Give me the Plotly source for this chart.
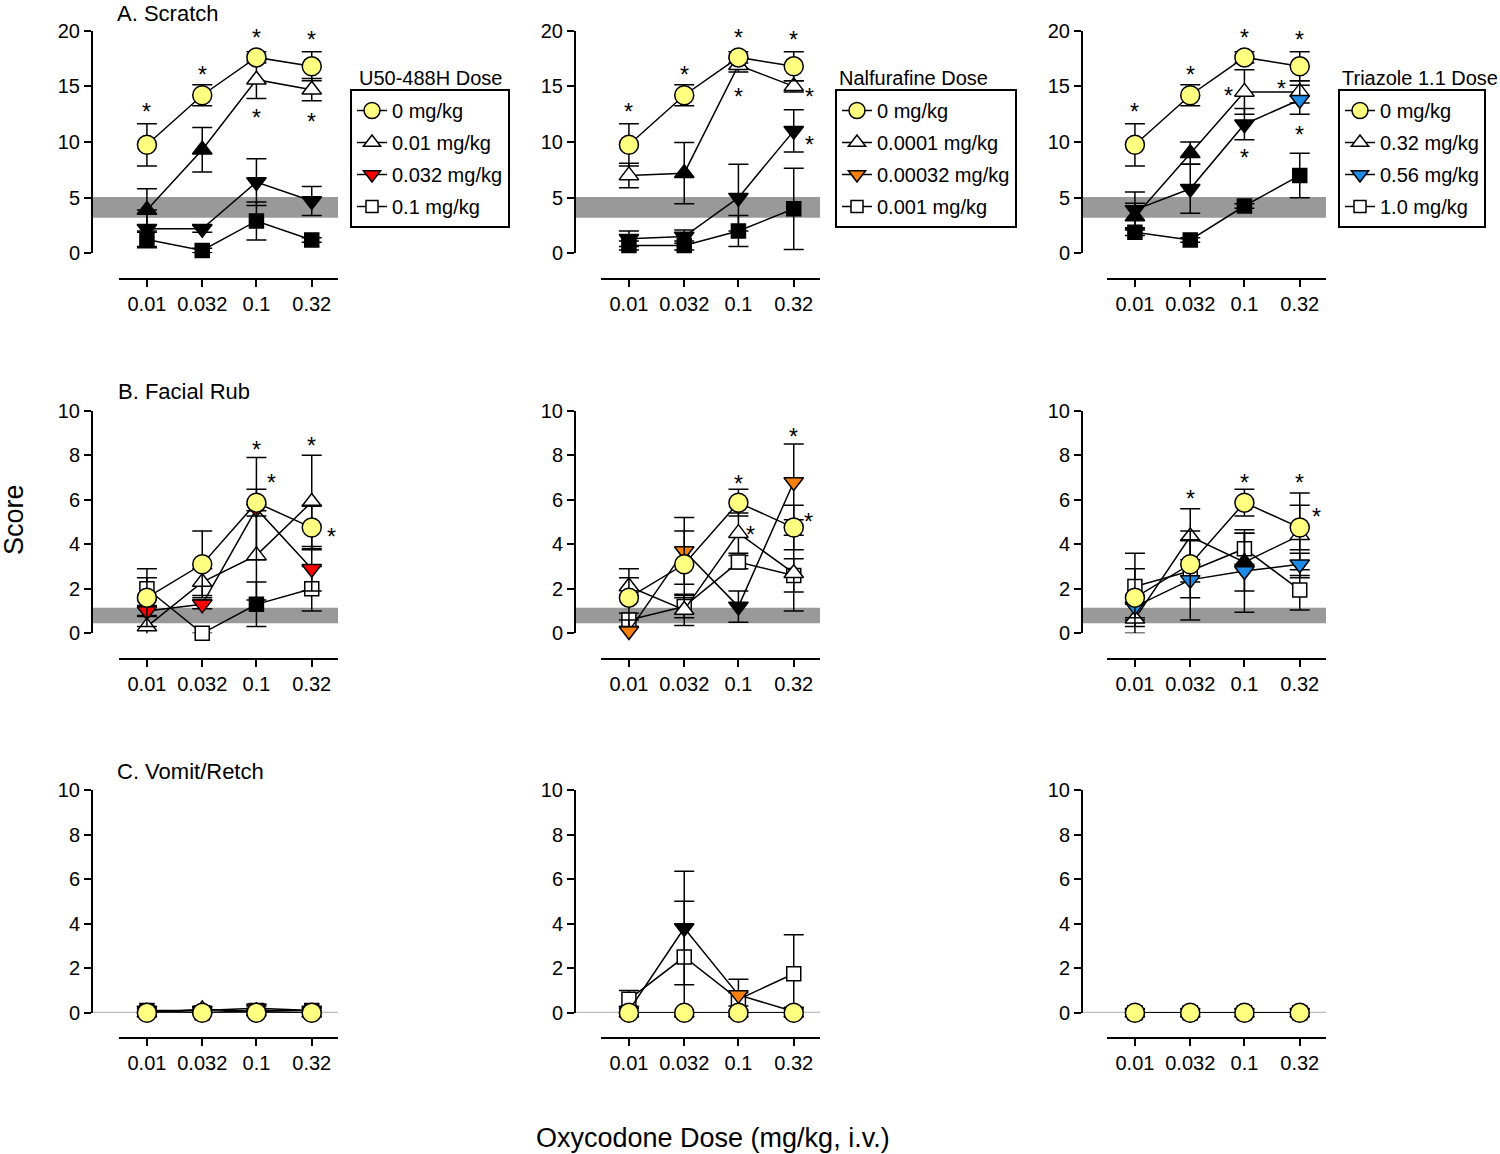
import math
import plotly.graph_objects as go

FONT = "Liberation Sans, Arial, sans-serif"
W, H = 1500, 1154
OFF = 0  # page body margin is removed by the post script

# ---------------- data ----------------
doses = [0.01, 0.032, 0.1, 0.32]
dose_labels = ["0.01", "0.032", "0.1", "0.32"]

row_titles = ["A. Scratch", "B. Facial Rub", "C. Vomit/Retch"]
drug_titles = ["U50-488H Dose", "Nalfurafine Dose", "Triazole 1.1 Dose"]
u50_labels = ["0 mg/kg", "0.01 mg/kg", "0.032 mg/kg", "0.1 mg/kg"]
nalf_labels = ["0 mg/kg", "0.0001 mg/kg", "0.00032 mg/kg", "0.001 mg/kg"]
triaz_labels = ["0 mg/kg", "0.32 mg/kg", "0.56 mg/kg", "1.0 mg/kg"]

# baseline (no-drug) range bands
scratch_band = [3.2, 5.05]
rub_band = [0.45, 1.15]

# series order: 0 mg/kg, low, middle, high dose
# flags: 1 = coloured/open symbol, 0 = filled black symbol
scratch_u50_mean = [[9.75, 14.2, 17.6, 16.8], [3.9, 9.3, 15.6, 14.7], [2.2, 2.2, 6.4, 4.7], [1.25, 0.25, 2.9, 1.2]]
scratch_u50_sem = [[1.9, 0.95, 0.5, 1.3], [1.9, 2.0, 1.7, 1.0], [1.7, 0.3, 2.1, 1.3], [0.65, 0.2, 1.7, 0.2]]
scratch_u50_flag = [[1, 1, 1, 1], [0, 0, 1, 1], [0, 0, 0, 0], [0, 0, 0, 0]]

scratch_nalf_mean = [[9.75, 14.2, 17.6, 16.8], [7.0, 7.2, 16.9, 15.0], [1.3, 1.5, 5.0, 11.0], [0.7, 0.7, 2.0, 4.0]]
scratch_nalf_sem = [[1.9, 0.95, 0.5, 1.3], [1.1, 2.75, 0.6, 0.5], [0.7, 0.6, 3.0, 1.9], [0.4, 0.4, 1.4, 3.65]]
scratch_nalf_flag = [[1, 1, 1, 1], [1, 0, 1, 1], [0, 0, 0, 0], [0, 0, 0, 0]]

scratch_triaz_mean = [[9.75, 14.2, 17.6, 16.8], [3.3, 9.0, 14.5, 14.5], [3.9, 5.8, 11.6, 13.8], [1.9, 1.2, 4.25, 7.0]]
scratch_triaz_sem = [[1.9, 0.95, 0.5, 1.3], [1.2, 1.0, 2.0, 1.0], [1.6, 2.2, 1.4, 1.3], [0.3, 0.2, 0.2, 2.0]]
scratch_triaz_flag = [[1, 1, 1, 1], [0, 0, 1, 1], [0, 0, 0, 1], [0, 0, 0, 0]]

rub_u50_mean = [[1.6, 3.1, 5.87, 4.75], [0.3, 2.3, 3.5, 5.9], [1.0, 1.3, 5.6, 2.9], [2.0, 0.0, 1.3, 2.0]]
rub_u50_sem = [[1.3, 1.5, 0.6, 1.0], [0.5, 0.6, 2.0, 2.1], [0.25, 0.2, 2.3, 1.0], [0.5, 0.0, 1.0, 1.0]]
rub_u50_flag = [[1, 1, 1, 1], [1, 1, 1, 1], [1, 1, 1, 1], [1, 1, 0, 1]]

rub_nalf_mean = [[1.6, 3.1, 5.87, 4.75], [2.1, 1.05, 4.5, 2.7], [0.1, 3.7, 1.2, 6.8], [0.6, 1.2, 3.2, 2.6]]
rub_nalf_sem = [[1.3, 1.5, 0.6, 1.0], [0.4, 0.7, 0.9, 1.7], [0.5, 1.5, 0.7, 1.7], [0.3, 0.5, 0.3, 0.75]]
rub_nalf_flag = [[1, 1, 1, 1], [1, 1, 1, 1], [1, 1, 0, 1], [1, 1, 1, 1]]

rub_triaz_mean = [[1.6, 3.1, 5.87, 4.75], [0.65, 4.35, 3.2, 4.4], [1.2, 2.4, 2.8, 3.1], [2.1, 2.8, 3.8, 1.95]]
rub_triaz_sem = [[1.3, 1.5, 0.6, 1.0], [0.65, 1.25, 1.3, 1.9], [0.5, 1.8, 1.85, 0.5], [1.5, 0.5, 0.7, 0.9]]
rub_triaz_flag = [[1, 1, 1, 1], [1, 1, 0, 1], [1, 1, 1, 1], [1, 1, 1, 1]]

vomit_u50_mean = [[0, 0, 0, 0], [0.0, 0.15, 0.05, 0.0], [0.1, 0.1, 0.2, 0.1], [0.1, 0.0, 0.1, 0.1]]
vomit_u50_sem = [[0, 0, 0, 0], [0.1, 0.1, 0.1, 0.1], [0.1, 0.1, 0.1, 0.1], [0.1, 0.0, 0.1, 0.1]]
vomit_u50_flag = [[1, 1, 1, 1], [1, 1, 1, 1], [1, 1, 1, 1], [0, 0, 0, 0]]

vomit_nalf_mean = [[0, 0, 0, 0], [0, 0, 0, 0], [0.1, 3.8, 0.8, 0.05], [0.6, 2.5, 0.6, 1.75]]
vomit_nalf_sem = [[0, 0, 0, 0], [0, 0, 0, 0], [0.1, 2.55, 0.7, 0.1], [0.4, 2.5, 0.3, 1.75]]
vomit_nalf_flag = [[1, 1, 1, 1], [1, 1, 1, 1], [1, 0, 1, 1], [1, 1, 1, 1]]

vomit_triaz_mean = [[0, 0, 0, 0], [0, 0, 0, 0], [0, 0, 0, 0], [0, 0, 0, 0]]
vomit_triaz_sem = [[0, 0, 0, 0], [0, 0, 0, 0], [0, 0, 0, 0], [0, 0, 0, 0]]
vomit_triaz_flag = [[1, 1, 1, 1], [1, 1, 1, 1], [1, 1, 1, 1], [1, 1, 1, 1]]

# significance asterisks: (column, row, oxycodone dose, score, horizontal offset px)
asterisks = [
    (0, 0, 0.01, 13.2, 0), (0, 0, 0.032, 16.6, 0), (0, 0, 0.1, 19.9, 0), (0, 0, 0.32, 19.7, 0),
    (0, 0, 0.1, 12.7, 0), (0, 0, 0.32, 12.3, 0),
    (1, 0, 0.01, 13.2, 0), (1, 0, 0.032, 16.6, 0), (1, 0, 0.1, 19.9, 0), (1, 0, 0.32, 19.7, 0),
    (1, 0, 0.1, 14.6, 0), (1, 0, 0.32, 14.6, 16), (1, 0, 0.32, 10.3, 16),
    (2, 0, 0.01, 13.2, 0), (2, 0, 0.032, 16.6, 0), (2, 0, 0.1, 19.9, 0), (2, 0, 0.32, 19.7, 0),
    (2, 0, 0.1, 14.7, -16), (2, 0, 0.1, 9.1, 0), (2, 0, 0.32, 15.3, -18), (2, 0, 0.32, 11.2, 0),
    (0, 1, 0.1, 8.5, 0), (0, 1, 0.1, 7.0, 15), (0, 1, 0.32, 8.7, 0), (0, 1, 0.32, 4.6, 20),
    (1, 1, 0.1, 6.96, 0), (1, 1, 0.1, 4.7, 12), (1, 1, 0.32, 9.1, 0), (1, 1, 0.32, 5.27, 15),
    (2, 1, 0.032, 6.3, 0), (2, 1, 0.1, 7.0, 0), (2, 1, 0.32, 7.0, 0), (2, 1, 0.32, 5.5, 17),
]

# ---------------- styling / layout ----------------
means = [[scratch_u50_mean, scratch_nalf_mean, scratch_triaz_mean],
         [rub_u50_mean, rub_nalf_mean, rub_triaz_mean],
         [vomit_u50_mean, vomit_nalf_mean, vomit_triaz_mean]]
sems = [[scratch_u50_sem, scratch_nalf_sem, scratch_triaz_sem],
        [rub_u50_sem, rub_nalf_sem, rub_triaz_sem],
        [vomit_u50_sem, vomit_nalf_sem, vomit_triaz_sem]]
flags = [[scratch_u50_flag, scratch_nalf_flag, scratch_triaz_flag],
         [rub_u50_flag, rub_nalf_flag, rub_triaz_flag],
         [vomit_u50_flag, vomit_nalf_flag, vomit_triaz_flag]]
labels = [u50_labels, nalf_labels, triaz_labels]

YELLOW = "#ffff80"
down_colors = ["#ff0000", "#f5800f", "#1e8ce6"]
symbols = ["circle", "triangle-up", "triangle-down", "square"]
sizes = [19, 17, 17, 14]

# pixel geometry (page pixels of the target picture)
yline_x = [92, 575, 1082]
xdom = [(119, 338), (601, 820), (1107, 1326)]
ydom = [(30.7, 253.3), (410.7, 633.3), (790, 1012.7)]
xline_y = [279, 659, 1038]
ymax = [20, 10, 10]
ydt = [5, 2, 2]
legend_pos = [(350, 89), (835, 89), (1338, 89)]
legend_title_pos = [(357, 78), (837, 78), (1340, 78)]
title_pos = [(115, 13), (116, 391), (115, 771)]


def px(x):
    return (x - OFF) / W


def py(y):
    return 1 - (y - OFF) / H


def sfx(k):
    return "" if k == 1 else str(k)


fig = go.Figure()
layout = dict(
    width=W, height=H, margin=dict(l=0, r=0, t=0, b=0, autoexpand=False),
    paper_bgcolor="white", plot_bgcolor="rgba(0,0,0,0)",
    font=dict(family=FONT, color="black", size=20),
    showlegend=True,
)
annotations = []
shapes = []
draw_order = [3, 1, 2, 0]

for r in range(3):
    for c in range(3):
        k = r * 3 + c + 1
        xa, ya = "x" + sfx(k), "y" + sfx(k)
        fills = [YELLOW, "white", down_colors[c], "white"]
        for s in draw_order:
            cols = [fills[s] if f else "black" for f in flags[r][c][s]]
            fig.add_trace(go.Scatter(
                x=doses, y=means[r][c][s], xaxis=xa, yaxis=ya,
                mode="lines+markers", showlegend=False, cliponaxis=False,
                line=dict(color="black", width=1.5),
                marker=dict(symbol=symbols[s], size=sizes[s], color=cols,
                            line=dict(color="black", width=1.5)),
                error_y=dict(type="data", array=sems[r][c][s], symmetric=True,
                             color="black", thickness=1.5, width=10),
                hoverinfo="x+y",
            ))
        x0p, x1p = xdom[c]
        yt, yb = ydom[r]
        layout["xaxis" + sfx(k)] = dict(
            domain=[px(x0p), px(x1p)], anchor="free", position=py(xline_y[r]),
            type="log", range=[-2.255, -0.255], tickmode="array",
            tickvals=doses, ticktext=dose_labels, automargin=False,
            showline=True, linecolor="black", linewidth=2,
            ticks="outside", ticklen=7, tickwidth=2, tickcolor="black",
            showgrid=False, zeroline=False,
            tickfont=dict(size=20, family=FONT, color="black"),
        )
        layout["yaxis" + sfx(k)] = dict(
            domain=[py(yb), py(yt)], anchor="free", position=px(yline_x[c]),
            range=[0, ymax[r]], dtick=ydt[r], tick0=0, automargin=False,
            showline=True, linecolor="black", linewidth=2,
            ticks="outside", ticklen=7, tickwidth=2, tickcolor="black",
            showgrid=False, zeroline=False,
            tickfont=dict(size=20, family=FONT, color="black"),
        )
        xstart = (yline_x[c] - x0p) / (x1p - x0p)
        if r < 2:
            band = scratch_band if r == 0 else rub_band
            shapes.append(dict(type="rect", xref=xa + " domain", yref=ya,
                               x0=xstart, x1=1, y0=band[0], y1=band[1],
                               fillcolor="#999999", line=dict(width=0), layer="below"))
        else:
            shapes.append(dict(type="line", xref=xa + " domain", yref=ya,
                               x0=xstart, x1=1, y0=0, y1=0,
                               line=dict(color="#aaaaaa", width=2), layer="below"))

# legend-only traces (one legend per drug)
for c in range(3):
    fills = [YELLOW, "white", down_colors[c], "white"]
    lname = "legend" if c == 0 else f"legend{c + 1}"
    for s in range(4):
        fig.add_trace(go.Scatter(
            x=[None], y=[None], xaxis="x" + sfx(c + 1), yaxis="y" + sfx(c + 1),
            mode="lines+markers", name=labels[c][s], legend=lname,
            legendgroup=f"g{c}{s}", legendrank=s + 1, showlegend=True,
            line=dict(color="black", width=1.5),
            marker=dict(symbol=symbols[s], size=sizes[s] - 2, color=fills[s],
                        line=dict(color="black", width=1.5)),
        ))
    lx, ly = legend_pos[c]
    layout[lname] = dict(
        x=px(lx), y=py(ly), xanchor="left", yanchor="top",
        bordercolor="black", borderwidth=2, bgcolor="white",
        font=dict(size=20, family=FONT, color="black"),
        traceorder="grouped", tracegroupgap=3, itemwidth=30,
    )
    tx, ty = legend_title_pos[c]
    annotations.append(dict(text=drug_titles[c], x=px(tx), y=py(ty), xref="paper", yref="paper",
                            xanchor="left", yanchor="middle", showarrow=False,
                            font=dict(size=20, family=FONT, color="black")))

for r in range(3):
    tx, ty = title_pos[r]
    annotations.append(dict(text=row_titles[r], x=px(tx), y=py(ty), xref="paper", yref="paper",
                            xanchor="left", yanchor="middle", showarrow=False,
                            font=dict(size=22, family=FONT, color="black")))

for (c, r, d, v, dx) in asterisks:
    k = r * 3 + c + 1
    annotations.append(dict(text="*", x=math.log10(d), y=v, xref="x" + sfx(k), yref="y" + sfx(k),
                            showarrow=False, xshift=dx, yshift=-6,
                            font=dict(size=23, family=FONT, color="black")))

annotations.append(dict(text="Score", x=px(14), y=py(520), xref="paper", yref="paper",
                        textangle=-90, showarrow=False, xanchor="center", yanchor="middle",
                        font=dict(size=27, family=FONT, color="black")))
annotations.append(dict(text="Oxycodone Dose (mg/kg, i.v.)", x=px(713), y=py(1138),
                        xref="paper", yref="paper", showarrow=False,
                        xanchor="center", yanchor="middle",
                        font=dict(size=27, family=FONT, color="black")))

layout["annotations"] = annotations
layout["shapes"] = shapes
fig.update_layout(**layout)
fig.write_html(
    "out.html",
    config=dict(displayModeBar=False),
    post_script="document.body.style.margin='0';document.body.style.overflow='hidden';",
)
